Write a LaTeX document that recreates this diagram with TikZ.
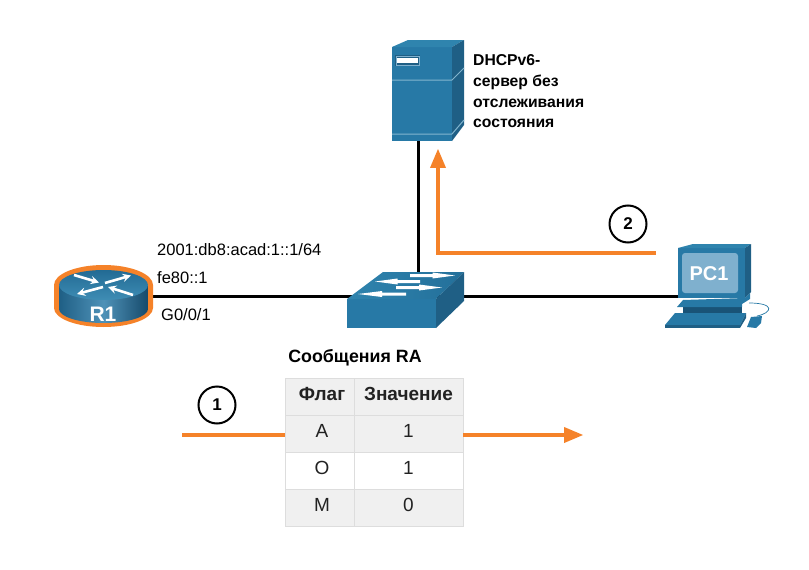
\documentclass[tikz,border=0pt]{standalone}
\usepackage{fontspec}
\setmainfont{Liberation Sans}
\usepackage{tikz}
\usetikzlibrary{arrows,positioning,calc}

\definecolor{ciscoblue}{HTML}{2779A6}
\definecolor{ciscoside}{HTML}{1F5F85}
\definecolor{ciscotop}{HTML}{2F84AE}
\definecolor{ciscodark}{HTML}{164A6B}
\definecolor{flagorange}{HTML}{F58229}
\definecolor{cellgrey}{HTML}{F0F0F0}
\definecolor{cellline}{HTML}{DDDDDD}
\definecolor{screenblue}{HTML}{7FB0CE}
\definecolor{celltext}{HTML}{222222}

\tikzset{
    devnode/.style={inner sep=0pt, minimum size=4pt},
    cablenode/.style={line width=3pt, black},
    flagline/.style={line width=3.5pt, flagorange},
    stepnode/.style={draw=black, line width=2pt, circle, fill=white, minimum size=37pt, inner sep=0pt, font=\fontsize{17}{20}\selectfont\bfseries},
    smalltext/.style={font=\fontsize{16.5}{18}\selectfont, inner sep=0pt, anchor=west},
    boldtext/.style={font=\fontsize{15.7}{20.7}\selectfont\bfseries, inner sep=0pt, anchor=west, align=left},
    cellnode/.style={draw=cellline, line width=0.8pt, minimum height=37pt, inner sep=0pt, text height=13pt, text depth=5pt, text=celltext},
    routerarrow/.style={white, line width=2.6pt, -stealth},
}

\begin{document}
\begin{tikzpicture}[x=1pt,y=-1pt]
    \useasboundingbox (0,0) rectangle (809,570);

    \node[devnode] (r1) at (103,296) {};
    \node[devnode] (sw) at (418,296) {};
    \node[devnode] (srv) at (418,95) {};
    \node[devnode] (pc1) at (712,296) {};

    % cables run behind the icons
    \draw[cablenode] (r1) -- (sw);
    \draw[cablenode] (sw) -- (pc1);
    \draw[cablenode] (srv) -- (sw);

    % router
    \fill[flagorange] (54,285) arc[start angle=180,end angle=360,x radius=49.5,y radius=20]
        -- (153,308) arc[start angle=0,end angle=180,x radius=49.5,y radius=19] -- cycle;
    \shade[left color=ciscoside, right color=ciscodark, middle color=ciscoblue!55!screenblue]
        (59,285) -- (59,309) arc[start angle=180,end angle=0,x radius=44.5,y radius=14]
        -- (148,285) -- cycle;
    \shade[top color=ciscoblue!70!ciscodark, bottom color=ciscotop!80!screenblue]
        (103.5,285) ellipse[x radius=44.5,y radius=15];
    \draw[routerarrow] (74,275) -- (99,282.5);
    \draw[routerarrow] (103,287) -- (77,294);
    \draw[routerarrow] (105,283) -- (131,275.5);
    \draw[routerarrow] (133,295) -- (108,287);
    \node[font=\fontsize{21}{22}\selectfont\bfseries, white, inner sep=0pt] (r1label) at (103,314) {R1};

    % server
    \fill[ciscoblue] (392,47) rectangle (452,141);
    \fill[ciscotop] (392,47) -- (408,40) -- (464,40) -- (452,47) -- cycle;
    \fill[ciscoside] (452,47) -- (464,40) -- (464,125) -- (452,141) -- cycle;
    \draw[ciscotop!60!white, line width=1pt] (392,80) -- (452,80) -- (464,68);
    \draw[ciscotop!60!white, line width=1pt] (392,134) -- (452,134) -- (464,120);
    \fill[ciscoside] (395,55) rectangle (420,66);
    \fill[white] (397,58) rectangle (418,63);
    \draw[screenblue, line width=0.8pt] (396,56) rectangle (419,65);

    % switch
    \fill[ciscoblue] (347,299) rectangle (436,328);
    \shade[left color=ciscotop, right color=ciscoblue!80!ciscodark]
        (347,299) -- (383,272) -- (464,272) -- (436,299) -- cycle;
    \fill[ciscoside] (436,299) -- (464,272) -- (464,301) -- (436,328) -- cycle;
    \foreach \xa/\xb/\ya in {410/455/275.5, 420/375/281.5, 396/442/287.5, 406/358/294}
    {
        \pgfmathsetmacro{\xm}{(\xa+\xb)/2}
        \fill[white] (\xa,\ya-1.5) -- (\xm,\ya-1.5) -- (\xm,\ya-3) -- (\xb,\ya)
            -- (\xm,\ya+3) -- (\xm,\ya+1.5) -- (\xa,\ya+1.5) -- cycle;
    }

    % pc
    \fill[ciscoblue] (678,248) rectangle (745,298);
    \fill[ciscotop] (678,248) -- (693,244) -- (751,244) -- (745,248) -- cycle;
    \fill[ciscoside] (745,248) -- (751,244) -- (751,292) -- (745,298) -- cycle;
    \fill[screenblue, rounded corners=3pt] (682,253) rectangle (738,293);
    \node[font=\fontsize{20}{22}\selectfont\bfseries, white, inner sep=0pt] (pc1label) at (709,274) {PC1};
    \fill[ciscodark!80!ciscoblue] (683,307) rectangle (742,313);
    \fill[ciscoblue] (677,307) -- (683,300) -- (745,298) -- (750,293) -- (750,299) -- (742,304) -- (742,307) -- cycle;
    \fill[ciscoblue] (665,325) -- (675,313) -- (746,313) -- (740,325) -- cycle;
    \fill[ciscoside] (665,325) rectangle (740,328);
    \fill[ciscoside] (740,325) -- (746,313) -- (746,318) -- (740,328) -- cycle;
    \fill[ciscoblue] (747,327) -- (751,317) -- (762,316) -- (761,323) -- (756,328) -- cycle;
    \draw[ciscoblue, line width=0.7pt] (749,303) .. controls (776,303) and (772,313) .. (757,316);

    % labels
    \node[smalltext] (addr) at (157,250) {2001:db8:acad:1::1/64};
    \node[smalltext] (lla) at (157,278) {fe80::1};
    \node[smalltext] (port) at (161,315) {G0/0/1};
    \node[boldtext] (srvlabel) at (473,91.5) {DHCPv6-\\сервер без\\отслеживания\\состояния};
    \node[font=\fontsize{17.8}{20}\selectfont\bfseries, inner sep=0pt] (ratitle) at (355,358) {Сообщения RA};

    % table
    \foreach \y/\a/\b/\c/\w in {396.5/Флаг/Значение/cellgrey/\bfseries, 433.5/A/1/cellgrey/, 470.5/O/1/white/, 507.5/M/0/cellgrey/}
    {
        \node[cellnode, fill=\c, minimum width=69pt, font=\fontsize{19}{20}\selectfont\w] (f-\a) at (319.5,\y) {\hspace{5pt}\a};
        \node[cellnode, fill=\c, minimum width=109pt, font=\fontsize{19}{20}\selectfont\w] (v-\a) at (408.5,\y) {\b};
    }

    % flag arrows
    \coordinate (ra-start) at (182,435);
    \coordinate (ra-end) at (583,435);
    \coordinate (dh-start) at (656,253);
    \coordinate (dh-bend) at (438,253);
    \coordinate (dh-end) at (438,149);
    \draw[flagline] (ra-start) -- (ra-start -| f-A.west);
    \draw[flagline, -triangle 45] (ra-end -| v-A.east) -- (ra-end);
    \draw[flagline, -triangle 45] (dh-start) -- (dh-bend) -- (dh-end);

    \node[stepnode] (step-1) at (217,405) {1};
    \node[stepnode] (step-2) at (628,224) {2};
\end{tikzpicture}
\end{document}
